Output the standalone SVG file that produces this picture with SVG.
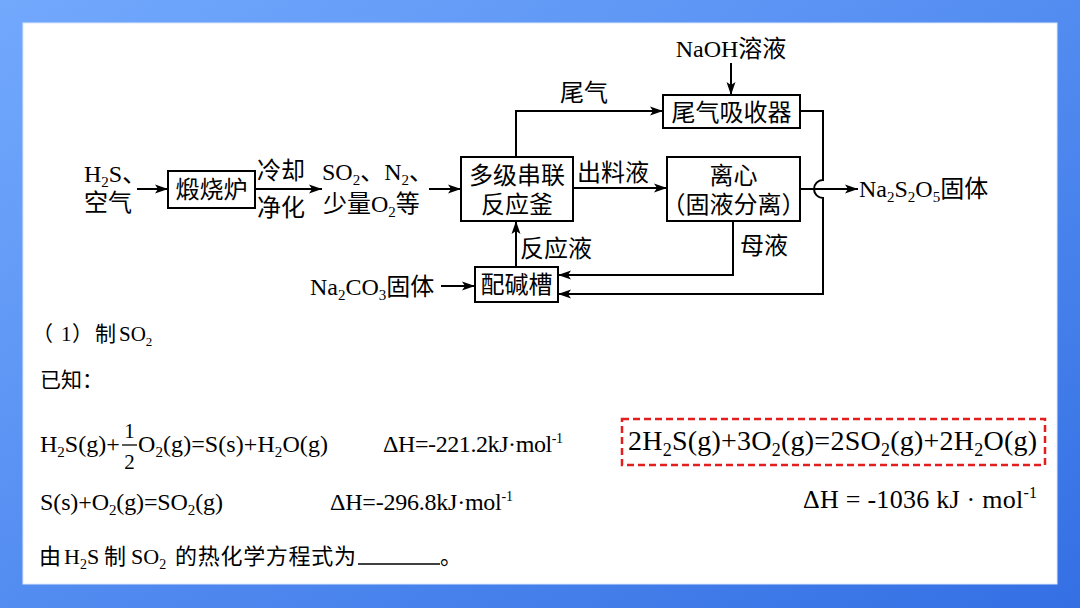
<svg xmlns="http://www.w3.org/2000/svg" width="1080" height="608" viewBox="0 0 1080 608">
<defs>
<linearGradient id="bg" x1="0" y1="0" x2="1" y2="1">
<stop offset="0" stop-color="#72a9fd"/>
<stop offset="1" stop-color="#3470e4"/>
</linearGradient>
<marker id="ah" markerUnits="userSpaceOnUse" markerWidth="14" markerHeight="10" refX="13" refY="5" orient="auto"><path d="M0,0.5 L13,5 L0,9.5 L3,5 z" fill="#000"/></marker>
</defs>
<style>
.t{font-family:"Liberation Serif","Noto Sans CJK SC",serif;font-size:24px;fill:#000}
.c{text-anchor:middle}
.box{fill:#fff;stroke:#000;stroke-width:2}
.ln{fill:none;stroke:#000;stroke-width:2}
.ar{marker-end:url(#ah)}
.s{font-size:15px}
.q{font-family:"Liberation Serif","Noto Sans CJK SC",serif;font-size:21px;fill:#000}
.e{font-family:"Liberation Serif","Noto Sans CJK SC",serif;font-size:24px;fill:#000}
</style>
<rect width="1080" height="608" fill="url(#bg)"/>
<rect x="23" y="23" width="1034" height="561" fill="#fff" stroke="#dbe8fb" stroke-width="1"/>

<g id="connectors">
<line class="ln ar" x1="137" y1="189" x2="168" y2="189"/>
<line class="ln ar" x1="255" y1="189" x2="322" y2="189"/>
<line class="ln ar" x1="429" y1="189" x2="461" y2="189"/>
<polyline class="ln ar" points="516,157 516,111 663,111"/>
<line class="ln ar" x1="731" y1="63" x2="731" y2="95"/>
<line class="ln ar" x1="573" y1="188" x2="667" y2="188"/>
<path class="ln ar" d="M800,111 H823 V180 A9,9 0 0 0 823,198 V294 H558"/>
<line class="ln ar" x1="800" y1="189" x2="858" y2="189"/>
<polyline class="ln ar" points="733,221 733,275 558,275"/>
<line class="ln ar" x1="516" y1="267" x2="516" y2="221"/>
<line class="ln ar" x1="441" y1="286" x2="475" y2="286"/>
</g>

<g id="input">
<text class="t" x="84" y="182">H<tspan class="s" dy="5">2</tspan><tspan dy="-5">S、</tspan></text>
<text class="t" x="84" y="211">空气</text>
</g>
<g id="furnace">
<rect class="box" x="168" y="171" width="87" height="37"/>
<text class="t c" x="211.5" y="198">煅烧炉</text>
</g>
<g id="cool-labels">
<text class="t" x="257" y="179">冷却</text>
<text class="t" x="257" y="216">净化</text>
</g>
<g id="gas">
<text class="t" x="322" y="180">SO<tspan class="s" dy="5">2</tspan><tspan dy="-5">、N</tspan><tspan class="s" dy="5">2</tspan><tspan dy="-5">、</tspan></text>
<text class="t" x="323" y="212">少量O<tspan class="s" dy="5">2</tspan><tspan dy="-5">等</tspan></text>
</g>
<g id="reactor">
<rect class="box" x="461" y="157" width="112" height="64"/>
<text class="t c" x="517" y="184">多级串联</text>
<text class="t c" x="517" y="213">反应釜</text>
</g>
<g id="tailgas-label">
<text class="t" x="560" y="101">尾气</text>
</g>
<g id="naoh">
<text class="t c" x="731" y="57">NaOH溶液</text>
</g>
<g id="absorber">
<rect class="box" x="663" y="95" width="137" height="33"/>
<text class="t c" x="731.5" y="121">尾气吸收器</text>
</g>
<g id="discharge-label">
<text class="t" x="577" y="181">出料液</text>
</g>
<g id="centrifuge">
<rect class="box" x="667" y="157" width="133" height="64"/>
<text class="t c" x="733.5" y="184">离心</text>
<text class="t c" x="733.5" y="213">（固液分离）</text>
</g>
<g id="product">
<text class="t" x="859" y="197">Na<tspan class="s" dy="5">2</tspan><tspan dy="-5">S</tspan><tspan class="s" dy="5">2</tspan><tspan dy="-5">O</tspan><tspan class="s" dy="5">5</tspan><tspan dy="-5">固体</tspan></text>
</g>
<g id="liquor-labels">
<text class="t" x="520" y="257">反应液</text>
<text class="t" x="740" y="254">母液</text>
</g>
<g id="alkali-tank">
<rect class="box" x="475" y="267" width="83" height="35"/>
<text class="t c" x="516.5" y="293">配碱槽</text>
</g>
<g id="na2co3">
<text class="t" x="310" y="295">Na<tspan class="s" dy="5">2</tspan><tspan dy="-5">CO</tspan><tspan class="s" dy="5">3</tspan><tspan dy="-5">固体</tspan></text>
</g>

<g id="question">
<text class="q" x="32" y="341">（</text>
<text class="q" x="61" y="341">1</text>
<text class="q" x="72" y="341">）</text>
<text class="q" x="95" y="341">制</text>
<text class="q" x="119" y="341">SO<tspan style="font-size:13px" dy="5">2</tspan></text>
<text class="q" x="40" y="387">已知：</text>

<text class="e" x="40" y="452">H<tspan class="s" dy="5">2</tspan><tspan dy="-5">S(g)+</tspan></text>
<text class="e c" x="129.5" y="438" style="font-size:21px">1</text>
<line x1="122" y1="445" x2="137" y2="445" stroke="#000" stroke-width="1.3"/>
<text class="e c" x="129.5" y="469" style="font-size:21px">2</text>
<text class="e" x="138" y="452" textLength="190">O<tspan class="s" dy="5">2</tspan><tspan dy="-5">(g)=S(s)+H</tspan><tspan class="s" dy="5">2</tspan><tspan dy="-5">O(g)</tspan></text>
<text class="e" x="383" y="452" textLength="180">ΔH=-221.2kJ·mol<tspan style="font-size:14px" dy="-9">-1</tspan></text>

<text class="e" x="40" y="510" textLength="183">S(s)+O<tspan class="s" dy="5">2</tspan><tspan dy="-5">(g)=SO</tspan><tspan class="s" dy="5">2</tspan><tspan dy="-5">(g)</tspan></text>
<text class="e" x="330" y="510" textLength="183">ΔH=-296.8kJ·mol<tspan style="font-size:14px" dy="-9">-1</tspan></text>

<text class="q" x="39" y="564" style="font-size:22px">由</text>
<text class="e" x="64" y="564" style="font-size:22px">H<tspan style="font-size:14px" dy="5">2</tspan><tspan dy="-5">S</tspan></text>
<text class="q" x="104" y="564" style="font-size:22px">制</text>
<text class="e" x="131" y="564" style="font-size:22px">SO<tspan style="font-size:14px" dy="5">2</tspan></text>
<text class="q" x="175" y="564" style="font-size:22px" textLength="181">的热化学方程式为</text>
<line x1="358" y1="564" x2="440" y2="564" stroke="#000" stroke-width="1.5"/>
<text class="q" x="440" y="564" style="font-size:22px">。</text>
</g>

<g id="answer">
<rect x="622" y="419" width="423" height="46" fill="none" stroke="#e21f1f" stroke-width="2.5" stroke-dasharray="7 4"/>
<text class="e" x="628" y="450" style="font-size:28px" textLength="409">2H<tspan style="font-size:18px" dy="6">2</tspan><tspan dy="-6">S(g)+3O</tspan><tspan style="font-size:18px" dy="6">2</tspan><tspan dy="-6">(g)=2SO</tspan><tspan style="font-size:18px" dy="6">2</tspan><tspan dy="-6">(g)+2H</tspan><tspan style="font-size:18px" dy="6">2</tspan><tspan dy="-6">O(g)</tspan></text>
<text class="e" x="803" y="508" style="font-size:26px" textLength="234">ΔH = -1036 kJ · mol<tspan style="font-size:16px" dy="-10">-1</tspan></text>
</g>
</svg>
